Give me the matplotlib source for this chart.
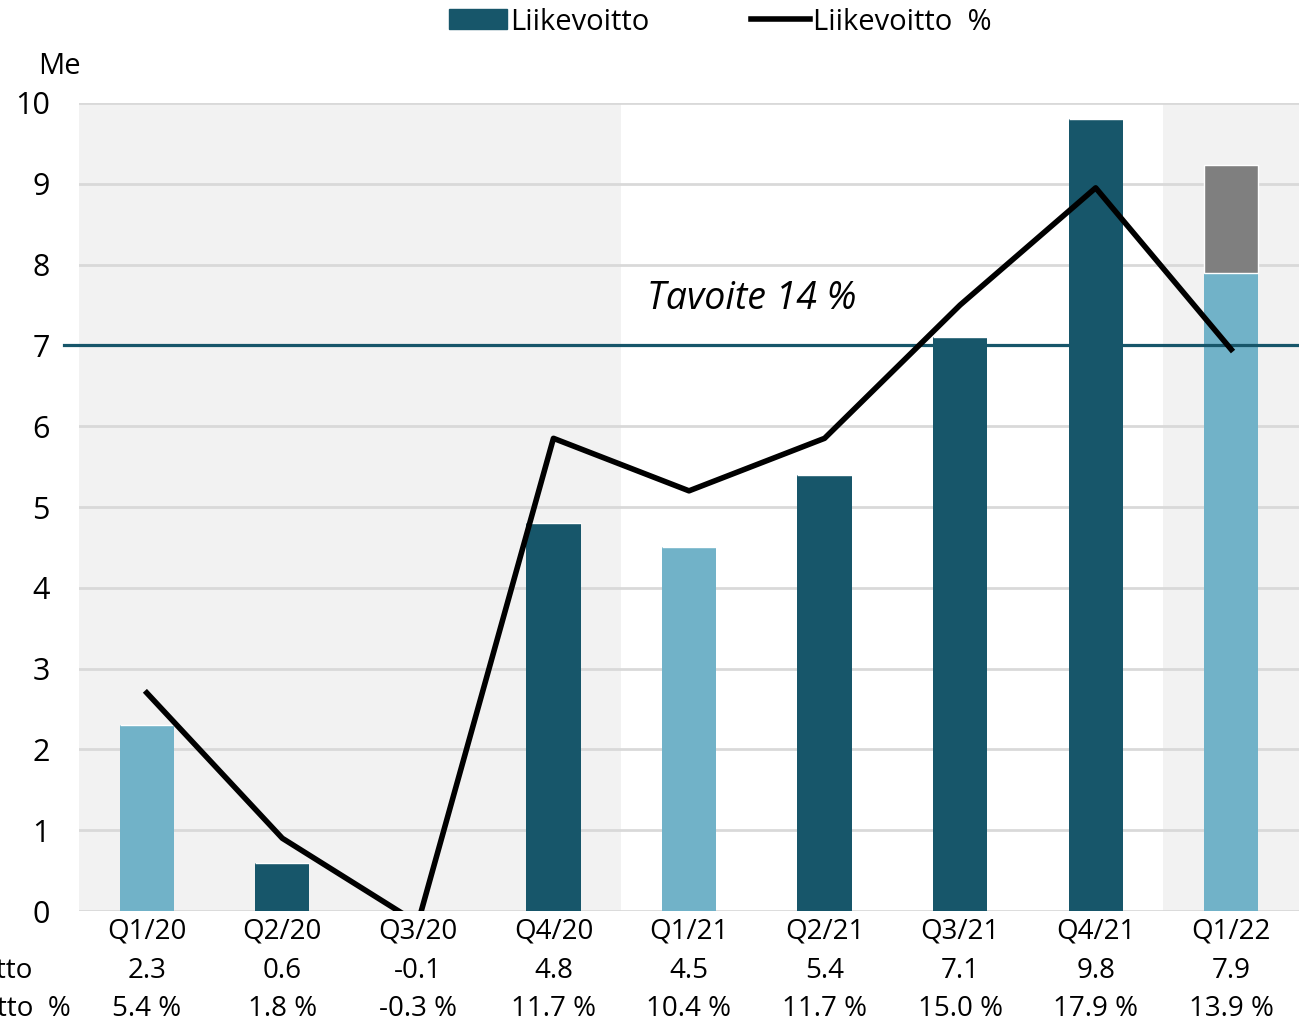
import matplotlib.pyplot as plt
import numpy as np
from matplotlib.lines import Line2D
from matplotlib.patches import Patch

plt.rcParams['font.family'] = ['Open Sans', 'DejaVu Sans']

quarters = ['Q1/20', 'Q2/20', 'Q3/20', 'Q4/20', 'Q1/21', 'Q2/21', 'Q3/21', 'Q4/21', 'Q1/22']
profit = [2.3, 0.6, -0.1, 4.8, 4.5, 5.4, 7.1, 9.8, 7.9]
profit_pct = [5.4, 1.8, -0.3, 11.7, 10.4, 11.7, 15.0, 17.9, 13.9]
extra = [0, 0, 0, 0, 0, 0, 0, 0, 1.33]
light = [True, False, False, False, True, False, False, False, True]
target_pct = 14

dark_c = '#17566a'
light_c = '#71b2c8'
bg_c = '#f2f2f2'

fig = plt.figure(figsize=(12.99, 10.21), dpi=100)
ax = fig.add_axes([79 / 1299, 1 - 911 / 1021, 1 - 79 / 1299, (911 - 103) / 1021])
x = np.arange(len(quarters))

ax.axvspan(-0.5, 3.5, color=bg_c, zorder=0, lw=0)
ax.axvspan(7.5, 8.5, color=bg_c, zorder=0, lw=0)

colors = [light_c if l else dark_c for l in light]
ax.bar(x, profit, width=0.4, color=colors, zorder=2)
ax.bar(x, extra, width=0.4, bottom=profit, color='#7f7f7f', edgecolor='white', lw=1, zorder=2)

ax.set_xlim(-0.5, 8.5)
ax.set_ylim(0, 10)
ax.set_yticks(range(0, 11))
ax.yaxis.grid(True, color='#d9d9d9', lw=2)
ax.set_axisbelow(True)
for s in ax.spines.values():
    s.set_visible(False)
ax.tick_params(axis='y', length=0, pad=21, labelsize=22)
ax.tick_params(axis='x', length=0, pad=5, labelsize=20)
ax.set_xticks(x)
ax.set_xticklabels(quarters)

ax2 = ax.twinx()
ax2.set_ylim(0, 20)
ax2.axis('off')
ax2.plot(x, profit_pct, color='black', lw=4, zorder=3)
ax2.axhline(target_pct, xmin=-0.012, xmax=1, color=dark_c, lw=2.3, clip_on=False, zorder=2)
ax2.text(3.69, 15.15, 'Tavoite 14 %', fontsize=27, style='italic', ha='left', va='center')

fig.text(59 / 1299, 1 - 67 / 1021, 'Me', fontsize=21, ha='center', va='center')

# table rows below the axis
for i, (v, p) in enumerate(zip(profit, profit_pct)):
    xf = ax.transData.transform((i, 0))[0] / 1299
    fig.text(xf, 1 - 971 / 1021, f'{v:.1f}', fontsize=20, ha='center', va='center')
    fig.text(xf, 1 - 1009 / 1021, f'{p:.1f} %', fontsize=20, ha='center', va='center')
fig.text(33 / 1299, 1 - 971 / 1021, 'Liikevoitto', fontsize=20, ha='right', va='center')
fig.text(71 / 1299, 1 - 1009 / 1021, 'Liikevoitto  %', fontsize=20, ha='right', va='center')

handles = [Patch(color=dark_c), Line2D([], [], color='black', lw=4)]
fig.legend(handles, ['Liikevoitto', 'Liikevoitto  %'], loc='center', bbox_to_anchor=(720 / 1299, 1 - 22 / 1021),
           ncol=2, frameon=False, fontsize=21, handlelength=2.0, handletextpad=0.1, columnspacing=3.5)

fig.savefig('out.png', dpi=100)
